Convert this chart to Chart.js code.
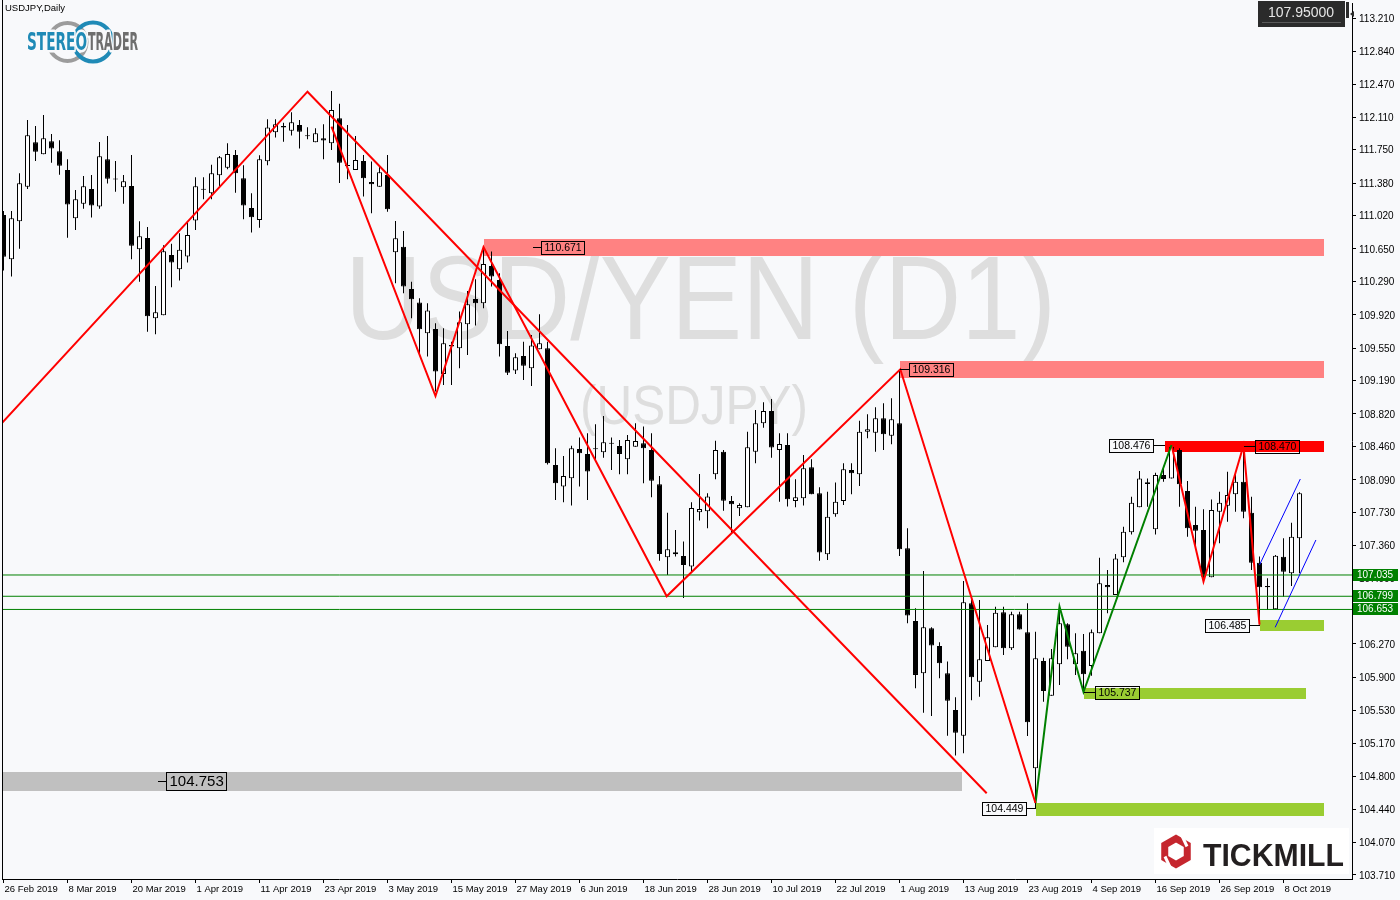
<!DOCTYPE html>
<html><head><meta charset="utf-8">
<script src="https://cdn.jsdelivr.net/npm/chart.js@4/dist/chart.umd.min.js"></script>
<style>html,body{margin:0;padding:0;background:#F8F9FB;}canvas{display:block;}</style>
</head><body>
<canvas id="c" width="1400" height="900" style="width:1400px;height:900px"></canvas>
<script>
// ---------------- DATA ----------------
const symbolTitle = 'USDJPY,Daily';
const dateLabels = ['26 Feb 2019','8 Mar 2019','20 Mar 2019','1 Apr 2019','11 Apr 2019','23 Apr 2019','3 May 2019','15 May 2019','27 May 2019','6 Jun 2019','18 Jun 2019','28 Jun 2019','10 Jul 2019','22 Jul 2019','1 Aug 2019','13 Aug 2019','23 Aug 2019','4 Sep 2019','16 Sep 2019','26 Sep 2019','8 Oct 2019'];
const dateLabelBars = [0,8,16,24,32,40,48,56,64,72,80,88,96,104,112,120,128,136,144,152,160];
const priceTicks = [113.210,112.840,112.470,112.110,111.750,111.380,111.020,110.650,110.290,109.920,109.550,109.190,108.820,108.460,108.090,107.730,107.360,107.000,106.630,106.270,105.900,105.530,105.170,104.800,104.440,104.070,103.710];

const opens = [111.026,110.535,110.956,111.34,111.832,111.699,111.843,111.732,111.525,110.989,
111.152,111.314,111.119,111.643,111.43,111.333,111.348,110.646,110.771,109.881,
109.914,110.583,110.424,110.565,110.964,111.305,111.267,111.466,111.551,111.692,
111.433,111.104,110.971,111.621,111.943,112.013,111.961,112.024,111.91,111.832,
111.876,111.821,112.098,111.58,111.525,111.625,111.392,111.34,111.47,110.613,
110.675,110.206,110.055,109.715,109.763,109.264,109.585,109.548,109.814,110.095,
110.047,110.461,110.306,109.574,109.301,109.463,109.327,109.537,109.548,108.255,
108.015,108.107,108.432,108.377,108.43,108.395,108.49,108.466,108.318,108.458,
108.495,108.421,108.04,107.231,107.265,107.246,107.128,107.73,107.741,108.151,
108.402,107.856,107.774,107.785,108.402,108.716,108.853,108.421,108.476,107.856,
107.885,108.229,107.941,107.264,107.708,107.856,108.199,108.151,108.624,108.613,
108.772,108.58,108.716,107.331,106.525,105.945,106.444,106.248,105.945,105.539,
105.254,106.721,105.852,106.081,106.233,106.621,106.222,106.599,106.399,104.892,
106.081,105.697,106.044,106.488,106.044,106.196,106.026,106.388,106.924,106.813,
107.231,107.508,107.785,108.043,107.541,108.143,108.106,108.42,107.966,107.589,
107.534,107.009,107.737,107.803,107.929,108.069,107.726,107.171,106.913,106.654,
107.238,107.053,107.441];
const highs = [111.07,111.07,111.488,112.079,112.013,112.135,111.924,111.854,111.643,111.303,
111.459,111.47,111.835,111.902,111.625,111.47,111.691,110.956,110.893,110.239,
110.69,110.708,110.823,110.953,111.444,111.444,111.584,111.681,111.821,111.747,
111.577,111.267,111.688,112.087,112.087,112.05,112.165,112.08,111.998,111.987,
112.032,112.401,112.26,112.024,111.902,111.692,111.618,111.562,111.692,110.96,
110.849,110.287,110.103,110.047,109.825,109.77,109.622,109.955,110.184,110.313,
110.671,110.62,110.38,109.74,109.493,109.622,109.696,109.925,109.622,108.44,
108.355,108.469,108.558,108.606,108.706,108.798,108.558,108.532,108.588,108.717,
108.68,108.606,108.133,107.726,107.534,107.405,107.841,108.155,107.941,108.524,
108.421,107.911,107.83,108.624,108.864,108.949,108.986,108.606,108.606,108.096,
108.365,108.317,108.007,107.959,108.059,108.273,108.273,108.746,108.816,108.894,
108.938,108.994,109.316,107.553,106.666,107.08,106.455,106.289,106.075,105.679,
106.969,106.769,106.758,106.48,106.684,106.684,106.628,106.628,106.721,106.407,
106.118,106.214,106.684,106.499,106.388,106.381,106.432,107.227,107.09,107.267,
107.57,107.903,108.188,108.106,108.169,108.236,108.476,108.439,108.077,107.792,
107.763,107.873,107.958,108.18,108.162,108.47,107.903,107.24,106.998,107.256,
107.441,107.615,107.951];
const lows = [110.41,110.343,110.653,111.314,111.625,111.699,111.606,111.473,110.775,110.86,
111.096,110.997,111.096,111.374,111.285,111.152,110.535,110.287,109.733,109.703,
109.914,110.224,110.30,110.50,110.86,111.2,111.2,111.341,111.533,111.274,
110.978,110.831,110.886,111.577,111.884,111.839,111.906,111.762,111.865,111.832,
111.644,111.747,111.38,111.422,111.525,111.23,111.045,111.34,111.063,110.269,
110.158,109.881,109.493,109.456,109.068,109.142,109.142,109.327,109.474,109.8,
109.992,110.232,109.456,109.253,109.264,109.197,109.131,109.537,108.26,107.867,
107.841,107.804,108.015,107.867,108.31,108.336,108.2,108.152,108.152,108.458,
108.052,107.896,107.194,107.035,107.239,106.78,107.08,107.638,107.553,108.096,
107.748,107.497,107.689,107.785,108.273,108.668,108.336,107.848,107.793,107.785,
107.804,107.929,107.194,107.202,107.682,107.811,107.929,108.022,108.55,108.402,
108.421,108.484,107.246,106.499,105.779,105.509,105.472,105.89,105.254,105.033,
105.058,105.645,105.686,106.081,106.233,106.148,106.203,106.432,105.25,104.449,
105.631,105.697,105.815,106.1,105.926,105.737,105.919,106.388,106.61,106.813,
107.175,107.485,107.785,107.792,107.485,108.069,108.106,107.792,107.46,107.349,
106.961,107.009,107.386,107.626,107.737,107.663,107.09,106.485,106.647,106.654,
106.794,106.913,107.053];
const closes = [110.564,110.99,111.377,111.909,111.728,111.876,111.762,111.573,111.141,111.2,
111.344,111.13,111.677,111.429,111.42,111.399,110.686,110.79,109.903,109.947,
110.623,110.498,110.642,110.805,111.344,111.315,111.488,111.666,111.703,111.488,
111.13,111.001,111.644,111.995,112.032,111.995,112.054,111.95,111.90,111.932,
111.851,112.19,111.606,111.57,111.636,111.433,111.366,111.499,111.089,110.768,
110.232,110.092,109.759,109.966,109.29,109.604,109.567,109.837,110.036,110.047,
110.483,110.343,109.593,109.278,109.448,109.356,109.578,109.604,108.273,108.052,
108.133,108.44,108.384,108.181,108.428,108.506,108.5,108.377,108.532,108.521,
108.44,108.081,107.268,107.32,107.287,107.146,107.778,107.767,107.904,108.421,
107.859,107.819,107.811,108.45,108.716,108.853,108.447,108.487,107.874,107.896,
108.218,107.929,107.283,107.682,107.848,108.207,108.162,108.624,108.65,108.772,
108.595,108.761,107.32,106.585,105.927,106.455,106.252,106.056,105.642,105.287,
106.732,105.901,106.1,106.344,106.617,106.222,106.599,106.432,105.402,106.111,
105.749,106.111,106.499,106.24,106.166,105.934,106.399,106.942,106.898,107.219,
107.515,107.836,108.106,108.062,108.143,108.099,108.457,108.04,107.552,107.526,
107.016,107.755,107.836,107.921,108.069,107.737,107.171,106.898,106.898,107.249,
107.072,107.46,107.94];
const currentPrice = 107.95;

// trend lines (bar index, price)
const redLongIdx = [-0.2, 38, 122.9];
const redLongPx  = [108.72, 112.393, 104.615];
const redZigIdx  = [41, 54, 60, 82.9, 112.1, 129];
const redZigPx   = [112.005, 109.019, 110.671, 106.799, 109.316, 104.507];
const greenZigIdx = [129, 132, 135, 146];
const greenZigPx  = [104.507, 106.684, 105.737, 108.476];
const redLateIdx = [146, 150, 155, 157];
const redLatePx  = [108.476, 106.961, 108.47, 106.485];
const blueUpperIdx = [157, 162.1];
const blueUpperPx  = [107.146, 108.099];
const blueLowerIdx = [158.96, 164.05];
const blueLowerPx  = [106.455, 107.423];
const levelPrices = [107.035, 106.799, 106.653];

// zones: start bar, end bar, low price, high price
const zoneStart = [60, 112.1, 145.2, 157, 135, 129, -0.2];
const zoneEnd   = [165, 165, 165, 165, 162.8, 165, 119.8];
const zoneLow   = [110.575, 109.22, 108.40, 106.414, 105.662, 104.366, 104.641];
const zoneHigh  = [110.765, 109.407, 108.52, 106.536, 105.782, 104.507, 104.851];

// price tags: anchor bar, price
const tagIdx   = [66.2, 112.1, 145.2, 155, 157, 135, 129, 19.3];
const tagPrice = [110.671, 109.316, 108.476, 108.470, 106.485, 105.737, 104.449, 104.753];

// ---------------- STYLE ----------------
const zoneColors = ['#FF8282','#FF8282','#FF0000','#9ACD32','#9ACD32','#9ACD32','#C0C0C0'];
const tagSide = ['r','r','l','r','l','r','l','r'];
const tagLead = [8, 9, 12, 11, 11, 11, 10, 8];
const tagSize = [10.5,10.5,10.5,10.5,10.5,10.5,10.5,15];
const BG = '#F8F9FB';
const FONT = "'Liberation Sans', Arial, sans-serif";
const X_MIN = -0.1875, X_MAX = 168.5625;
const Y_MIN = 103.66455, Y_MAX = 113.3763;

Chart.defaults.font.family = FONT;

function lineDs(idx, px, color, width) {
  return { type: 'line', data: idx.map((x, k) => ({ x: x, y: px[k] })), borderColor: color,
    borderWidth: width, pointRadius: 0, pointHoverRadius: 0, fill: false, tension: 0, order: 0 };
}

const isDoji = i => Math.abs(closes[i] - opens[i]) < 0.012;

const datasets = [
  lineDs(redLongIdx, redLongPx, '#FF0000', 2),
  lineDs(redZigIdx, redZigPx, '#FF0000', 2),
  lineDs(greenZigIdx, greenZigPx, '#008000', 2),
  lineDs(redLateIdx, redLatePx, '#FF0000', 2),
  lineDs(blueUpperIdx, blueUpperPx, '#0000FF', 1),
  lineDs(blueLowerIdx, blueLowerPx, '#0000FF', 1),
  ...levelPrices.map(p => lineDs([X_MIN, X_MAX], [p, p], '#008000', 1)),
  { type: 'bar', data: opens.map((o, i) => ({ x: i, y: [o, closes[i]] })),
    backgroundColor: c => (isDoji(c.dataIndex) || closes[c.dataIndex] < opens[c.dataIndex]) ? '#000000' : '#FFFFFF',
    borderColor: '#000000', borderWidth: 1, borderSkipped: false, barThickness: 5,
    grouped: false, minBarLength: 1, inflateAmount: 0, order: 1 },
  { type: 'bar', data: lows.map((l, i) => ({ x: i, y: [l, highs[i]] })),
    backgroundColor: '#000000', borderWidth: 0, barThickness: 1, grouped: false, inflateAmount: 0, order: 2 }
];

function fitText(ctx, text, x, y, w) {
  const m = ctx.measureText(text).width;
  ctx.save(); ctx.translate(x, y); ctx.scale(w / m, 1); ctx.fillText(text, 0, 0); ctx.restore();
}

const decor = {
  id: 'decor',
  beforeDraw(chart) {
    const ctx = chart.ctx;
    ctx.save(); ctx.fillStyle = BG; ctx.fillRect(0, 0, chart.width, chart.height); ctx.restore();
  },
  beforeDatasetsDraw(chart) {
    const ctx = chart.ctx, a = chart.chartArea, xs = chart.scales.x, ys = chart.scales.y;
    ctx.save();
    ctx.beginPath(); ctx.rect(a.left, a.top, a.right - a.left, a.bottom - a.top); ctx.clip();
    // watermark
    ctx.fillStyle = '#DEDEDE'; ctx.textBaseline = 'alphabetic'; ctx.textAlign = 'left';
    ctx.font = '118px ' + FONT; fitText(ctx, 'USD/YEN (D1)', 345, 339, 711);
    ctx.font = '56px ' + FONT; fitText(ctx, '(USDJPY)', 580, 424, 228);
    // zones
    for (let k = 0; k < zoneStart.length; k++) {
      const x0 = xs.getPixelForValue(zoneStart[k]), x1 = xs.getPixelForValue(zoneEnd[k]);
      const y0 = ys.getPixelForValue(zoneHigh[k]), y1 = ys.getPixelForValue(zoneLow[k]);
      ctx.fillStyle = zoneColors[k];
      ctx.fillRect(Math.round(x0), Math.round(y0), Math.round(x1) - Math.round(x0), Math.round(y1) - Math.round(y0));
    }
    ctx.restore();
  },
  afterDatasetsDraw(chart) {
    const ctx = chart.ctx, xs = chart.scales.x, ys = chart.scales.y, a = chart.chartArea;
    ctx.save();
    // left frame line
    ctx.fillStyle = '#000'; ctx.fillRect(a.left, 0, 1, a.bottom);
    // price tags
    for (let k = 0; k < tagIdx.length; k++) {
      const fs = tagSize[k];
      ctx.font = fs + 'px ' + FONT;
      const t = tagPrice[k].toFixed(3);
      const bw = Math.round(ctx.measureText(t).width + 6);
      const bh = fs > 12 ? 18 : 13;
      const ax = Math.round(xs.getPixelForValue(tagIdx[k]));
      const ay = Math.round(ys.getPixelForValue(tagPrice[k]));
      const bx = tagSide[k] === 'r' ? ax + tagLead[k] : ax - tagLead[k] - bw;
      const by = ay - Math.floor(bh / 2);
      ctx.strokeStyle = '#000'; ctx.lineWidth = 1;
      ctx.beginPath();
      if (tagSide[k] === 'r') { ctx.moveTo(ax, ay + 0.5); ctx.lineTo(bx, ay + 0.5); }
      else { ctx.moveTo(bx + bw, ay + 0.5); ctx.lineTo(ax, ay + 0.5); }
      ctx.stroke();
      ctx.strokeRect(bx + 0.5, by + 0.5, bw, bh);
      ctx.fillStyle = '#000'; ctx.textBaseline = 'middle'; ctx.textAlign = 'left';
      ctx.fillText(t, bx + 3.5, by + bh / 2 + 1);
    }
    ctx.restore();
  },
  afterDraw(chart) {
    const ctx = chart.ctx, ys = chart.scales.y;
    ctx.save();
    // level labels on the axis
    ctx.font = '10px ' + FONT; ctx.textBaseline = 'middle'; ctx.textAlign = 'left';
    levelPrices.forEach(p => {
      const y = Math.round(ys.getPixelForValue(p));
      ctx.fillStyle = '#008000'; ctx.fillRect(1353, y - 6, 45, 12);
      ctx.fillStyle = '#FFFFFF'; ctx.fillText(p.toFixed(3), 1357, y + 0.5);
    });
    // title
    ctx.fillStyle = '#000'; ctx.font = '9.5px ' + FONT; ctx.textBaseline = 'top';
    ctx.fillText(symbolTitle, 5, 4);
    // current price box
    ctx.fillStyle = '#2B2B2B'; ctx.fillRect(1258, 1, 87, 26);
    ctx.fillStyle = '#5A5A5A'; ctx.fillRect(1262, 22, 79, 1);
    ctx.fillStyle = '#2B2B2B'; ctx.fillRect(1346, 2, 3, 16);
    ctx.beginPath(); ctx.moveTo(1350, 14); ctx.lineTo(1354, 11); ctx.lineTo(1354, 17); ctx.closePath(); ctx.fill();
    ctx.fillStyle = '#E6E6E6'; ctx.font = '14px ' + FONT; ctx.textAlign = 'center'; ctx.textBaseline = 'middle';
    ctx.fillText(currentPrice.toFixed(5), 1301, 13);
    // StereoTrader logo
    ctx.lineWidth = 4;
    ctx.strokeStyle = '#9C9C9C'; ctx.beginPath(); ctx.arc(67.5, 42, 19, 0, Math.PI * 2); ctx.stroke();
    ctx.strokeStyle = '#1F8AB6'; ctx.beginPath(); ctx.arc(93, 42, 19.5, 0, Math.PI * 2); ctx.stroke();
    ctx.font = 'bold 25px ' + "'Liberation Sans Narrow', 'DejaVu Sans Condensed', " + FONT;
    ctx.textAlign = 'left'; ctx.textBaseline = 'alphabetic';
    const drawLogoWord = (txt, x, w, col) => {
      const m = ctx.measureText(txt).width;
      ctx.save(); ctx.translate(x, 49.5); ctx.scale(w / m, 1);
      ctx.strokeStyle = BG; ctx.lineWidth = 5; ctx.lineJoin = 'round'; ctx.strokeText(txt, 0, 0);
      ctx.fillStyle = col; ctx.fillText(txt, 0, 0); ctx.restore();
    };
    drawLogoWord('STEREO', 27, 60, '#1F8AB6');
    drawLogoWord('TRADER', 88, 50, '#6E6E6E');
    // Tickmill logo
    ctx.fillStyle = '#FFFFFF'; ctx.fillRect(1154, 828, 195, 46);
    const cx = 1176, cy = 851.5, R = 13;
    ctx.strokeStyle = '#C5262E'; ctx.lineWidth = 7; ctx.lineJoin = 'miter';
    ctx.beginPath();
    for (let k = 0; k < 6; k++) {
      const ang = (-90 + 60 * k) * Math.PI / 180;
      const px = cx + R * Math.cos(ang), py = cy + R * Math.sin(ang);
      if (k === 0) ctx.moveTo(px, py); else ctx.lineTo(px, py);
    }
    ctx.closePath(); ctx.stroke();
    ctx.strokeStyle = '#FFFFFF'; ctx.lineWidth = 3;
    ctx.beginPath(); ctx.moveTo(cx + 4, cy - 20); ctx.lineTo(cx + 11, cy - 5); ctx.stroke();
    ctx.beginPath(); ctx.moveTo(cx - 4, cy + 20); ctx.lineTo(cx - 11, cy + 5); ctx.stroke();
    ctx.fillStyle = '#231F20'; ctx.font = 'bold 31px ' + FONT; ctx.textAlign = 'left'; ctx.textBaseline = 'alphabetic';
    fitText(ctx, 'TICKMILL', 1203, 866, 141);
    ctx.restore();
  }
};

new Chart(document.getElementById('c'), {
  type: 'bar',
  data: { datasets: datasets },
  plugins: [decor],
  options: {
    responsive: false, animation: false, events: [],
    layout: { padding: { left: 2, top: 3, right: 1, bottom: 0 } },
    plugins: { legend: { display: false }, tooltip: { enabled: false } },
    scales: {
      x: {
        type: 'linear', min: X_MIN, max: X_MAX, bounds: 'data', offset: false,
        afterBuildTicks: s => { s.ticks = dateLabelBars.map(v => ({ value: v })); },
        afterFit: s => { s.height = 21; s.paddingLeft = 0; s.paddingRight = 0; },
        ticks: { autoSkip: false, maxRotation: 0, minRotation: 0, align: 'start', labelOffset: 1, padding: 1,
          color: '#000', font: { size: 9.5 }, callback: (v, i) => dateLabels[i] },
        grid: { drawOnChartArea: false, drawTicks: true, tickLength: 4, color: '#000', offset: false },
        border: { display: true, color: '#000', width: 1 }
      },
      y: {
        type: 'linear', position: 'right', min: Y_MIN, max: Y_MAX, bounds: 'data',
        afterBuildTicks: s => { s.ticks = priceTicks.map(v => ({ value: v })); },
        afterFit: s => { s.width = 47; s.paddingTop = 0; s.paddingBottom = 0; },
        ticks: { autoSkip: false, padding: 3, labelOffset: 1, color: '#000', font: { size: 10 },
          callback: v => v.toFixed(3) },
        grid: { drawOnChartArea: false, drawTicks: true, tickLength: 4, color: '#000' },
        border: { display: true, color: '#000', width: 1 }
      }
    }
  }
});
</script>
</body></html>
